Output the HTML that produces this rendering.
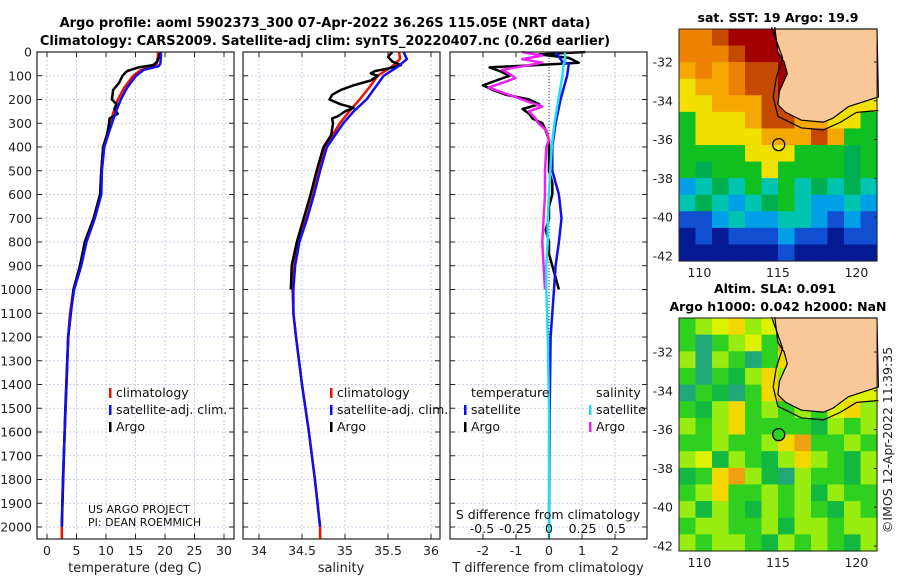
<!DOCTYPE html>
<html><head><meta charset="utf-8"><style>
html,body{margin:0;padding:0;background:#fff;}
svg{display:block;font-family:"DejaVu Sans","Liberation Sans",sans-serif;}
</style></head><body>
<svg id="fig" width="900" height="580" viewBox="0 0 900 580" xmlns="http://www.w3.org/2000/svg">
<text x="325" y="27" text-anchor="middle" font-size="13" font-weight="bold">Argo profile: aoml 5902373_300 07-Apr-2022 36.26S 115.05E (NRT data)</text>
<text x="325" y="45" text-anchor="middle" font-size="13" font-weight="bold">Climatology: CARS2009. Satellite-adj clim: synTS_20220407.nc (0.26d earlier)</text>
<text x="778" y="22" text-anchor="middle" font-size="12.5" font-weight="bold">sat. SST: 19 Argo: 19.9</text>
<text x="775" y="293" text-anchor="middle" font-size="12.5" font-weight="bold">Altim. SLA: 0.091</text>
<text x="778" y="311" text-anchor="middle" font-size="12.5" font-weight="bold">Argo h1000: 0.042 h2000: NaN</text>
<text transform="translate(892,440) rotate(-90)" text-anchor="middle" font-size="12.5" fill="#222">©IMOS 12-Apr-2022 11:39:35</text>
<g id="layer"></g>
</svg>
<script>
// ---- profile data ----
const depthsT = [0,20,50,60,75,100,150,200,250,300,400,500,600,700,800,900,1000,1100,1200,1400,1600,1800,2000];
const tempClim = [18.8,18.8,18.6,18.3,16.0,14.6,13.1,12.0,11.3,10.7,9.5,9.2,9.0,7.9,6.4,5.6,4.5,3.9,3.6,3.3,3.0,2.7,2.5];
const tempSat  = [19.3,19.3,19.2,18.9,16.4,15.1,13.6,12.5,11.7,11.0,9.7,9.3,9.2,8.1,6.7,5.8,4.6,4.0,3.6,3.3,3.0,2.7,2.5];
const depthsTA = [0,10,40,55,65,80,100,130,160,200,220,240,260,280,300,350,400,500,600,700,800,900,1000,1200,1500,2000];
const tempArgo = [19.3,19.1,18.7,18.0,15.5,13.6,12.8,12.2,11.2,11.0,11.8,11.4,12.0,10.6,10.5,10.2,9.5,9.2,9.0,7.9,6.4,5.6,4.5,3.6,3.1,2.5];

const depthsS = [0,30,60,100,150,200,250,300,400,500,600,700,800,900,1000,1100,1200,1400,1600,1800,2000];
const salClim = [35.63,35.64,35.55,35.38,35.28,35.17,35.05,34.94,34.77,34.70,34.63,34.55,34.46,34.41,34.39,34.40,34.43,34.50,34.58,34.65,34.71];
const salSat  = [35.68,35.72,35.62,35.45,35.35,35.25,35.10,34.98,34.79,34.71,34.64,34.56,34.47,34.42,34.40,34.40,34.43,34.50,34.58,34.65,34.71];
const depthsSA = [0,20,40,55,70,80,90,100,120,140,160,180,200,220,235,250,270,280,300,350,400,500,600,700,800,900,1000];
const salArgo = [35.55,35.50,35.55,35.65,35.50,35.35,35.30,35.38,35.30,35.10,34.95,34.85,34.82,34.95,35.10,35.00,34.92,34.85,34.86,34.84,34.75,34.67,34.60,34.52,34.44,34.38,34.37];

const depthsD = [0,10,25,45,55,65,80,100,120,140,160,180,200,220,240,260,280,300,330,370,400,450,500,550,600,650,700,750,800,850,900,950,1000];
const tDiffArgo = [1.1,-0.3,0.6,0.9,-0.4,-1.8,-1.5,-1.2,-1.6,-2.0,-1.7,-1.3,-0.6,-0.3,-0.8,-0.6,-0.5,-0.2,-0.1,0.0,0.0,0.0,0.0,0.1,0.1,0.0,0.0,-0.1,0.0,0.0,0.1,0.2,0.3];
const depthsSD = [0,15,30,45,60,75,90,110,130,150,170,190,210,230,250,280,300,330,370,400,500,600,700,800,900,1000];
const sDiffArgo = [-0.2,-0.05,-0.2,-0.05,-0.2,-0.35,-0.3,-0.25,-0.35,-0.45,-0.35,-0.25,-0.15,-0.05,-0.15,-0.1,-0.08,-0.02,0.0,-0.02,-0.03,-0.03,-0.04,-0.05,-0.04,-0.03];
const depthsSat = [0,40,50,100,200,300,400,500,600,700,800,900,1000,1200,1500,2000];
const tDiffSat = [0.2,0.4,0.6,0.55,0.35,0.2,0.1,0.1,0.3,0.38,0.3,0.2,0.15,0.05,0.02,0.0];
const sDiffSat = [0.12,0.12,0.11,0.1,0.07,0.04,0.02,0.01,0.0,-0.01,-0.01,-0.02,-0.02,-0.01,0.0,0.0];

const depthTicks = [0,100,200,300,400,500,600,700,800,900,1000,1100,1200,1300,1400,1500,1600,1700,1800,1900,2000];
const tempTicks = [0,5,10,15,20,25,30];
const salTicks = [34,34.5,35,35.5,36];
const salTickLabels = ["34","34.5","35","35.5","36"];
const tdTicks = [-2,-1,0,1,2];
const sdTicks = [-0.5,-0.25,0,0.25,0.5];
const sdTickLabels = ["-0.5","-0.25","0","0.25","0.5"];

// ---- map data (rows north->south, 12 cols west->east) ----
const sstGrid = ["oorRRRRRoooo","ooorRRRRoooo","OoOorrRRoooo","yOOorrRroooo","yyOOOrrryyyy","gyyyOrrOOyyg","gyyyyOOOrOgg","ggggyyygggGg","gGgggyggggGg","bcGcgcgcGcGc","cGcbcGgcbbcb","BBbcbbccbBbB","nBnBBBbBBnBB","nnnnnnBnnnnn"];
const slaGrid = ["glyYlyoYyyyy","gtglygoYyyyy","ltlgtgYoyyyy","gtgGlYlyoyyy","tgGtgYoyyyyy","gGlYglglgyYl","lglYggggGlgl","gglgglYogglg","lyGlgGlYlgGl","GgYolGtlggGl","glYgglglGlgg","lGlgGlglgGlg","gllgglGllgll","lgllgGlglgGl"];
const sstColors = {R:"#a20000",r:"#c54a00",o:"#ee8200",O:"#f4a800",y:"#f2e000",g:"#10c020",G:"#00b050",c:"#00c4b0",b:"#00a0e8",B:"#1050d0",n:"#041a94"};
const slaColors = {g:"#30d020",G:"#12b840",t:"#20a878",l:"#98ec10",y:"#dcf200",Y:"#f2d800",o:"#f0a010"};
const coastLon = [114.8,115.0,115.4,115.6,115.1,115.0,115.5,116.5,117.9,118.5,119.5,121.4];
const coastLat = [-30.2,-31.5,-32.0,-32.6,-33.5,-34.2,-34.6,-35.0,-35.1,-34.9,-34.3,-33.8];
const shelfLon = [114.6,115.3,114.9,114.7,115.0,116.5,117.9,119.0,120.0,121.4];
const shelfLat = [-30.2,-31.8,-32.8,-33.8,-34.8,-35.4,-35.5,-35.1,-34.6,-34.5];
const lonTicks = [110,115,120];
const latTicks = [-32,-34,-36,-38,-40,-42];
const argoLon = 115.05, argoLat = -36.26;

// ---- scales ----
const NS = "http://www.w3.org/2000/svg";
const L = document.getElementById('layer');
function mk(tag, attrs, parent){const e=document.createElementNS(NS,tag);for(const k in attrs)e.setAttribute(k,attrs[k]);(parent||L).appendChild(e);return e;}
const yD = d => 52 + d*0.2375;
const xT = t => 47 + t*5.9;
const xS = s => 259 + (s-34)*86;
const xTD = v => 549 + v*33;
const xSD = v => 549 + v*134;
const PB = 539;
const panels = [{x0:37,x1:234},{x0:243,x1:440},{x0:450,x1:647}];

function grid(p, xs, name){
  for(const d of depthTicks){
    const l = mk('line',{x1:p.x0,x2:p.x1,y1:yD(d),y2:yD(d),stroke:"#b8c4e4","stroke-width":0.8,"stroke-dasharray":"2,2"});
    
    
  }
  for(const x of xs){
    const l = mk('line',{x1:x,x2:x,y1:52,y2:PB,stroke:"#b8c4e4","stroke-width":0.8,"stroke-dasharray":"2,2"});
    
    
  }
}
function frame(p,name){
  const r = mk('rect',{x:p.x0,y:52,width:p.x1-p.x0,height:PB-52,fill:"none",stroke:"#222","stroke-width":1.2});
  
  
  for(const d of depthTicks){
    const a = mk('line',{x1:p.x0,x2:p.x0+5,y1:yD(d),y2:yD(d),stroke:"#222"});
    
    
    const b = mk('line',{x1:p.x1-5,x2:p.x1,y1:yD(d),y2:yD(d),stroke:"#222"});
    
    
  }
}
function xticks(p, vals, labels, fx, name){
  vals.forEach((v,i)=>{
    const x=fx(v);
    const a = mk('line',{x1:x,x2:x,y1:PB-5,y2:PB,stroke:"#222"});
    
    
    const b = mk('line',{x1:x,x2:x,y1:52,y2:57,stroke:"#222"});
    
    
    const t = mk('text',{x:x,y:555,"text-anchor":"middle","font-size":12.5,fill:"#222"});
    t.textContent = labels[i];
    
    
  });
}
function line(ds, vs, fx, color, w, name){
  const pts = ds.map((d,i)=>fx(vs[i]).toFixed(1)+","+yD(d).toFixed(1)).join(" ");
  const pl = mk('polyline',{points:pts,fill:"none",stroke:color,"stroke-width":w,"stroke-linejoin":"round"});
  
  
}
function legend(x, y, entries, name){
  entries.forEach((e,i)=>{
    const yy=y+i*17;
    if(e[1]){
      const r = mk('rect',{x:x,y:yy-9,width:2.5,height:10,fill:e[1]});
      
      
    }
    const t = mk('text',{x:x+7,y:yy,"font-size":12.5,fill:"#111"});
    t.textContent=e[0];
    
    
  });
}

// Panel 1 temperature
grid(panels[0], tempTicks.map(xT), 'temp-panel');
line(depthsT, tempClim, xT, "#ee1100", 2.5, 'temp-climatology-line');
line(depthsTA, tempArgo, xT, "#000", 2.5, 'temp-argo-line');
line(depthsT, tempSat, xT, "#1010ee", 2.5, 'temp-satellite-line');
line([2000,2050],[2.5,2.5],xT,"#ee1100",2.5,'temp-climatology-bottom');
frame(panels[0],'temp-panel');
xticks(panels[0], tempTicks, tempTicks.map(String), xT, 'temp-axis');
depthTicks.forEach(d=>{
  const t = mk('text',{x:32,y:yD(d)+4.5,"text-anchor":"end","font-size":12.5,fill:"#222"});
  t.textContent=String(d);
  
  
});
legend(109,397,[["climatology","#ee1100"],["satellite-adj. clim.","#1010ee"],["Argo","#000"]],'temp-legend');
{
  const a = mk('text',{x:88,y:513,"font-size":11,fill:"#111"}); a.textContent="US ARGO PROJECT";
   
  const b = mk('text',{x:88,y:526,"font-size":11,fill:"#111"}); b.textContent="PI: DEAN ROEMMICH";
   
  const c = mk('text',{x:135,y:572,"text-anchor":"middle","font-size":13,fill:"#222"}); c.textContent="temperature (deg C)";
   
}

// Panel 2 salinity
grid(panels[1], salTicks.map(xS), 'sal-panel');
line(depthsS, salClim, xS, "#ee1100", 2.5, 'sal-climatology-line');
line(depthsSA, salArgo, xS, "#000", 2.5, 'sal-argo-line');
line(depthsS, salSat, xS, "#1010ee", 2.5, 'sal-satellite-line');
line([2000,2050],[34.71,34.71],xS,"#ee1100",2.5,'sal-climatology-bottom');
frame(panels[1],'sal-panel');
xticks(panels[1], salTicks, salTickLabels, xS, 'sal-axis');
legend(330,397,[["climatology","#ee1100"],["satellite-adj. clim.","#1010ee"],["Argo","#000"]],'sal-legend');
{
  const c = mk('text',{x:341,y:572,"text-anchor":"middle","font-size":13,fill:"#222"}); c.textContent="salinity";
   
}

// Panel 3 differences
grid(panels[2], tdTicks.map(xTD), 'diff-panel');
{
  const z = mk('line',{x1:549,x2:549,y1:52,y2:PB,stroke:"#333","stroke-width":1,"stroke-dasharray":"1,2"});
   
}
line(depthsD, tDiffArgo, xTD, "#000", 2.5, 't-diff-argo-line');
line(depthsSD, sDiffArgo, xSD, "#ee22ee", 2.5, 's-diff-argo-line');
line(depthsSat, tDiffSat, xTD, "#1010ee", 2.5, 't-diff-satellite-line');
line(depthsSat, sDiffSat, xSD, "#22e0f0", 2.5, 's-diff-satellite-line');
line([2000,2050],[0,0],xTD,"#22e0f0",2.5,'diff-bottom');
frame(panels[2],'diff-panel');
xticks(panels[2], tdTicks, tdTicks.map(String), xTD, 'tdiff-axis');
legend(464,397,[["temperature",null],["satellite","#1010ee"],["Argo","#000"]],'tdiff-legend');
legend(589,397,[["salinity",null],["satellite","#22e0f0"],["Argo","#ee22ee"]],'sdiff-legend');
{
  const c = mk('text',{x:548,y:519,"text-anchor":"middle","font-size":12.5,fill:"#111"}); c.textContent="S difference from climatology";
   
  sdTicks.forEach((v,i)=>{
    const t = mk('text',{x:xSD(v),y:533,"text-anchor":"middle","font-size":12.5,fill:"#111"}); t.textContent=sdTickLabels[i];
     
  });
  const d = mk('text',{x:548,y:572,"text-anchor":"middle","font-size":13,fill:"#222"}); d.textContent="T difference from climatology";
   
}

// ---- maps ----
const lonX = l => 679 + (l-108.7)*15.7;
function drawMap(gridRows, colors, y0, y1, latY, name){
  const nr=gridRows.length, nc=gridRows[0].length, cw=(877-679)/nc, ch=(y1-y0)/nr;
  gridRows.forEach((row,i)=>{
    for(let j=0;j<nc;j++){
      const r = mk('rect',{x:679+j*cw,y:y0+i*ch,width:cw+0.6,height:ch+0.6,fill:colors[row[j]]});
      
      
    }
  });
  const cpts = coastLon.map((l,i)=>lonX(l)+","+latY(coastLat[i]));
  const land = mk('polygon',{points:cpts.join(" ")+" 877,"+y0+" "+lonX(114.8)+","+y0,fill:"#f8c898",stroke:"#000","stroke-width":1.2});
  
  
  const spts = shelfLon.map((l,i)=>lonX(l)+","+latY(shelfLat[i])).join(" ");
  const sh = mk('polyline',{points:spts,fill:"none",stroke:"#000","stroke-width":1.2});
  
  
  const c = mk('circle',{cx:lonX(argoLon),cy:latY(argoLat),r:6,fill:name==='sla-map'?"#30d020":"none",stroke:"#000","stroke-width":1.3});
  
  
  const f = mk('rect',{x:679,y:y0,width:198,height:y1-y0,fill:"none",stroke:"#222","stroke-width":1});
  
  
  latTicks.forEach(a=>{
    const t = mk('text',{x:673,y:latY(a)+4.5,"text-anchor":"end","font-size":12.5,fill:"#222"}); t.textContent=String(a);
     
    const k = mk('line',{x1:874,x2:877,y1:latY(a),y2:latY(a),stroke:"#222"});
     
  });
  lonTicks.forEach(l=>{
    const t = mk('text',{x:lonX(l),y:y1+16,"text-anchor":"middle","font-size":12.5,fill:"#222"}); t.textContent=String(l);
     
  });
}
drawMap(sstGrid, sstColors, 29, 261, a => 29 + (-30.3-a)*19.4, 'sst-map');
drawMap(slaGrid, slaColors, 318, 551, a => 352 + (-32-a)*19.4, 'sla-map');
</script>
</body></html>
